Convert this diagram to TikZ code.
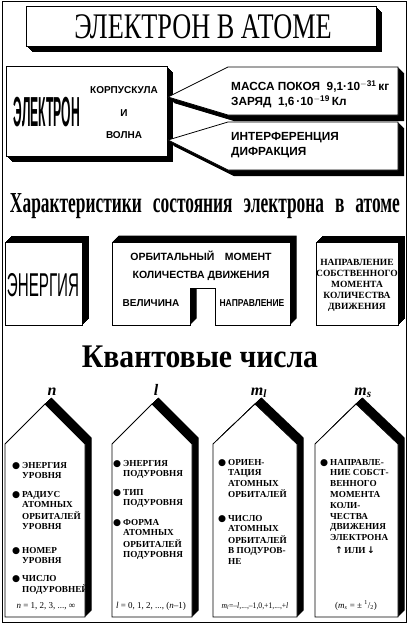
\documentclass[tikz,border=0pt]{standalone}
\usepackage{fontspec}
\setmainfont{Liberation Serif}
\newfontfamily\arialfont{Liberation Sans}
\newfontfamily\symfont{DejaVu Sans}
\newcommand{\bul}{{\symfont ●}}
\newcommand{\bitem}[1]{\makebox[10pt][l]{\bul}\begin{tabular}[t]{@{}l@{}}#1\end{tabular}}
\newcommand{\slabdown}[1]{\foreach \k in {0.5,1,...,6}{\fill[shift={(\k,\k)}] #1;}\path[face] #1;}
\newcommand{\slabup}[1]{\foreach \k in {0.5,1,...,6.5}{\fill[shift={(\k,-\k)}] #1;}\path[face] #1;}
\tikzset{
  face/.style={draw=black, fill=white, line width=0.8pt},
  sanslbl/.style={font=\arialfont\bfseries\fontsize{10}{12}\selectfont, inner sep=0pt, anchor=base},
  infolbl/.style={font=\arialfont\bfseries\fontsize{11.8}{14}\selectfont, inner sep=0pt, anchor=base west},
  itemtxt/.style={font=\bfseries\fontsize{9.2}{10.8}\selectfont, inner sep=0pt, anchor=north west},
  rangetxt/.style={font=\fontsize{9}{10}\selectfont, inner sep=0pt, anchor=base},
  qlabel/.style={font=\bfseries\itshape\fontsize{16}{16}\selectfont, inner sep=0pt, anchor=base}
}

\begin{document}
\begin{tikzpicture}[x=1pt,y=-1pt]
  \useasboundingbox (0,0) rectangle (413,625);
  \draw[line width=0.7pt] (2,1) rectangle (406,622);

  % title
  \slabdown{(26,6) rectangle (376,46)}
  \node[font=\fontsize{36}{36}\selectfont, xscale=0.73] (title) at (203,27) {ЭЛЕКТРОН В АТОМЕ};

  % electron: particle and wave
  \slabdown{(6,66) rectangle (167,156)}
  \node[font=\arialfont\bfseries\fontsize{42}{42}\selectfont, xscale=0.29] (electron) at (47,112) {ЭЛЕКТРОН};
  \node[sanslbl] (corp) at (124,93.6) {КОРПУСКУЛА};
  \node[sanslbl] (andw) at (124,116.6) {И};
  \node[sanslbl] (wave) at (124,138.6) {ВОЛНА};
  \slabdown{(168,97) -- (228,67) -- (398,67) -- (398,115) -- (228,115) -- cycle}
  \slabdown{(168,140) -- (228,122) -- (398,122) -- (398,170) -- (228,170) -- cycle}
  \node[infolbl] (mass) at (231,90.5) {МАССА ПОКОЯ\ \ 9,1·10\textsuperscript{$-$31}\,кг};
  \node[infolbl] (charge) at (231,105.5) {ЗАРЯД\ \ 1,6\,·10\textsuperscript{$-$19}\,Кл};
  \node[infolbl] (interf) at (231,140.5) {ИНТЕРФЕРЕНЦИЯ};
  \node[infolbl] (diffr) at (231,155.5) {ДИФРАКЦИЯ};

  % state characteristics
  \node[font=\bfseries\fontsize{29}{29}\selectfont, xscale=0.6, anchor=base] (chars) at (205,212)
    {\makebox[650pt]{Характеристики\hfill состояния\hfill электрона\hfill в\hfill атоме}};
  \slabup{(5,242) rectangle (82,325)}
  \node[font=\arialfont\fontsize{33}{33}\selectfont, xscale=0.46] (energy) at (43,285) {ЭНЕРГИЯ};
  \slabup{(112,242) -- (290,242) -- (290,325) -- (215,325) -- (215,288) -- (190,288) -- (190,325) -- (112,325) -- cycle}
  \node[sanslbl, font=\arialfont\bfseries\fontsize{10.5}{12}\selectfont] (orbit) at (201,260.6) {ОРБИТАЛЬНЫЙ\quad МОМЕНТ};
  \node[sanslbl, font=\arialfont\bfseries\fontsize{10.5}{12}\selectfont] (amount) at (201,278.6) {КОЛИЧЕСТВА ДВИЖЕНИЯ};
  \node[sanslbl] (magn) at (151,306.6) {ВЕЛИЧИНА};
  \node[sanslbl, xscale=0.85] (dirn) at (252,306.6) {НАПРАВЛЕНИЕ};
  \slabup{(316,242) rectangle (398,325)}
  \node[font=\bfseries\fontsize{9.5}{11}\selectfont, align=center, inner sep=0pt] (spin) at (357,285)
    {НАПРАВЛЕНИЕ\\СОБСТВЕННОГО\\МОМЕНТА\\КОЛИЧЕСТВА\\ДВИЖЕНИЯ};

  % quantum numbers
  \node[font=\bfseries\fontsize{33}{33}\selectfont, xscale=0.9, anchor=base] (qnums) at (200,367) {Квантовые числа};
  \node[qlabel] (qn) at (52,395) {n};
  \node[qlabel] (ql) at (156,395) {l};
  \node[qlabel] (qml) at (259,395) {m\textsubscript{l}};
  \node[qlabel] (qms) at (363,395) {m\textsubscript{s}};

  \slabup{(5,444) -- (45,404) -- (85,444) -- (85,617) -- (5,617) -- cycle}
  \slabup{(112,444) -- (152,404) -- (192,444) -- (192,617) -- (112,617) -- cycle}
  \slabup{(213,444) -- (255,404) -- (297,444) -- (297,617) -- (213,617) -- cycle}
  \slabup{(315,444) -- (356,404) -- (398,444) -- (398,617) -- (315,617) -- cycle}

  \node[itemtxt] (n1) at (12,460.4) {\bitem{ЭНЕРГИЯ\\УРОВНЯ}};
  \node[itemtxt] (n2) at (12,489.4) {\bitem{РАДИУС\\АТОМНЫХ\\ОРБИТАЛЕЙ\\УРОВНЯ}};
  \node[itemtxt] (n3) at (12,545.4) {\bitem{НОМЕР\\УРОВНЯ}};
  \node[itemtxt] (n4) at (12,573.4) {\bitem{ЧИСЛО\\ПОДУРОВНЕЙ}};
  \node[itemtxt] (l1) at (113,458.4) {\bitem{ЭНЕРГИЯ\\ПОДУРОВНЯ}};
  \node[itemtxt] (l2) at (113,487.4) {\bitem{ТИП\\ПОДУРОВНЯ}};
  \node[itemtxt] (l3) at (113,517.4) {\bitem{ФОРМА\\АТОМНЫХ\\ОРБИТАЛЕЙ\\ПОДУРОВНЯ}};
  \node[itemtxt] (ml1) at (218,457.4) {\bitem{ОРИЕН-\\ТАЦИЯ\\АТОМНЫХ\\ОРБИТАЛЕЙ}};
  \node[itemtxt] (ml2) at (218,513.4) {\bitem{ЧИСЛО\\АТОМНЫХ\\ОРБИТАЛЕЙ\\В ПОДУРОВ-\\НЕ}};
  \node[itemtxt] (ms1) at (320,457.4) {\bitem{НАПРАВЛЕ-\\НИЕ СОБСТ-\\ВЕННОГО\\МОМЕНТА\\КОЛИ-\\ЧЕСТВА\\ДВИЖЕНИЯ\\ЭЛЕКТРОНА\\[2pt]\hspace{5pt}{\symfont↑}\,ИЛИ\,{\symfont↓}}};

  \node[rangetxt] (rn) at (46,608) {\textit{n} = 1, 2, 3, ..., ∞};
  \node[rangetxt] (rl) at (151,608) {\textit{l} = 0, 1, 2, ..., (\textit{n}–1)};
  \node[rangetxt, font=\fontsize{8.5}{10}\selectfont, xscale=0.9] (rml) at (255,608) {\textit{m\textsubscript{l}}=–\textit{l},...,–1,0,+1,...,+\textit{l}};
  \node[rangetxt] (rms) at (356,608) {(\textit{m\textsubscript{s}} = ± \textsuperscript{1}/\textsubscript{2})};
\end{tikzpicture}
\end{document}
